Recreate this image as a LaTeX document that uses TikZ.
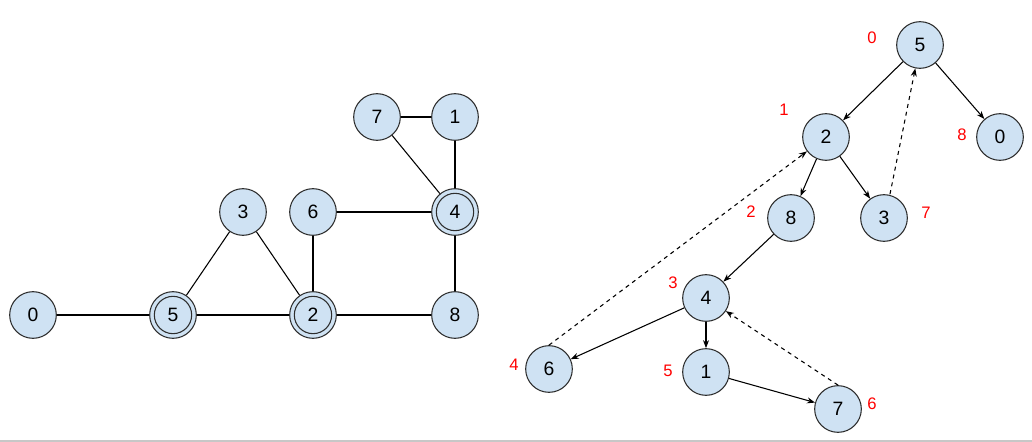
\documentclass[tikz,border=0pt]{standalone}
\usepackage{fontspec}
\setmainfont{Liberation Sans}
\usetikzlibrary{arrows.meta}
\definecolor{nodefill}{RGB}{207,226,243}
\definecolor{nodeline}{RGB}{45,45,45}
\tikzset{
  vert/.style={circle, draw=nodeline, fill=nodefill, line width=0.8pt, minimum size=35pt, inner sep=0pt, font=\fontsize{14.5}{16}\selectfont},
  cutvert/.style={vert, path picture={\draw[nodeline, line width=0.8pt] (path picture bounding box.center) circle[radius=14pt];}},
  order/.style={text=red, font=\fontsize{12.5}{14}\selectfont, inner sep=0pt},
  edge/.style={line width=0.8pt},
  tree/.style={line width=0.8pt, -{Stealth[length=6pt,width=4.5pt]}},
  back/.style={tree, dashed}
}

\begin{document}
\begin{tikzpicture}[x=0.75pt,y=0.75pt,yscale=-1,xscale=1]
\useasboundingbox (0,0) rectangle (1032,442);

% frame line at the bottom
\draw [black!22, line width=1.5pt] (0,441) -- (1032,441);

% Graph
\node [vert] (g0) at (33,315) {0};
\node [cutvert] (g5) at (173,315) {5};
\node [cutvert] (g2) at (313,315) {2};
\node [vert] (g8) at (455,315) {8};
\node [vert] (g3) at (243,212) {3};
\node [vert] (g6) at (313,212) {6};
\node [cutvert] (g4) at (455,212) {4};
\node [vert] (g7) at (377,117) {7};
\node [vert] (g1) at (455,117) {1};

\draw [edge] (g0) -- (g5);
\draw [edge] (g5) -- (g2);
\draw [edge] (g2) -- (g8);
\draw [edge] (g5) -- (g3);
\draw [edge] (g3) -- (g2);
\draw [edge] (g6) -- (g2);
\draw [edge] (g6) -- (g4);
\draw [edge] (g4) -- (g8);
\draw [edge] (g7) -- (g1);
\draw [edge] (g7) -- (g4);
\draw [edge] (g1) -- (g4);

% DFS tree
\node [vert] (t5) at (920,45) {5};
\node [vert] (t2) at (826,137) {2};
\node [vert] (t0) at (1000,137) {0};
\node [vert] (t8) at (791,218) {8};
\node [vert] (t3) at (884,218) {3};
\node [vert] (t4) at (706,298) {4};
\node [vert] (t6) at (549,369) {6};
\node [vert] (t1) at (706,372) {1};
\node [vert] (t7) at (838,409) {7};

% visiting order
\node [order] (o5) at (872,38) {0};
\node [order] (o2) at (784,110) {1};
\node [order] (o0) at (962,135) {8};
\node [order] (o8) at (751,212) {2};
\node [order] (o3) at (926,213) {7};
\node [order] (o4) at (673,283) {3};
\node [order] (o6) at (514,365) {4};
\node [order] (o1) at (668,371) {5};
\node [order] (o7) at (872,404) {6};

\draw [tree] (t5) -- (t2);
\draw [tree] (t5) -- (t0);
\draw [tree] (t2) -- (t8);
\draw [tree] (t2) -- (t3);
\draw [tree] (t8) -- (t4);
\draw [tree] (t4) -- (t6);
\draw [tree] (t4) -- (t1);
\draw [tree] (t1) -- (t7);

\draw [back] (t3.north) ++(6,0) -- (t5);
\draw [back] (t6.north) -- (t2);
\draw [back] (t7.north) -- (t4);

\end{tikzpicture}
\end{document}
